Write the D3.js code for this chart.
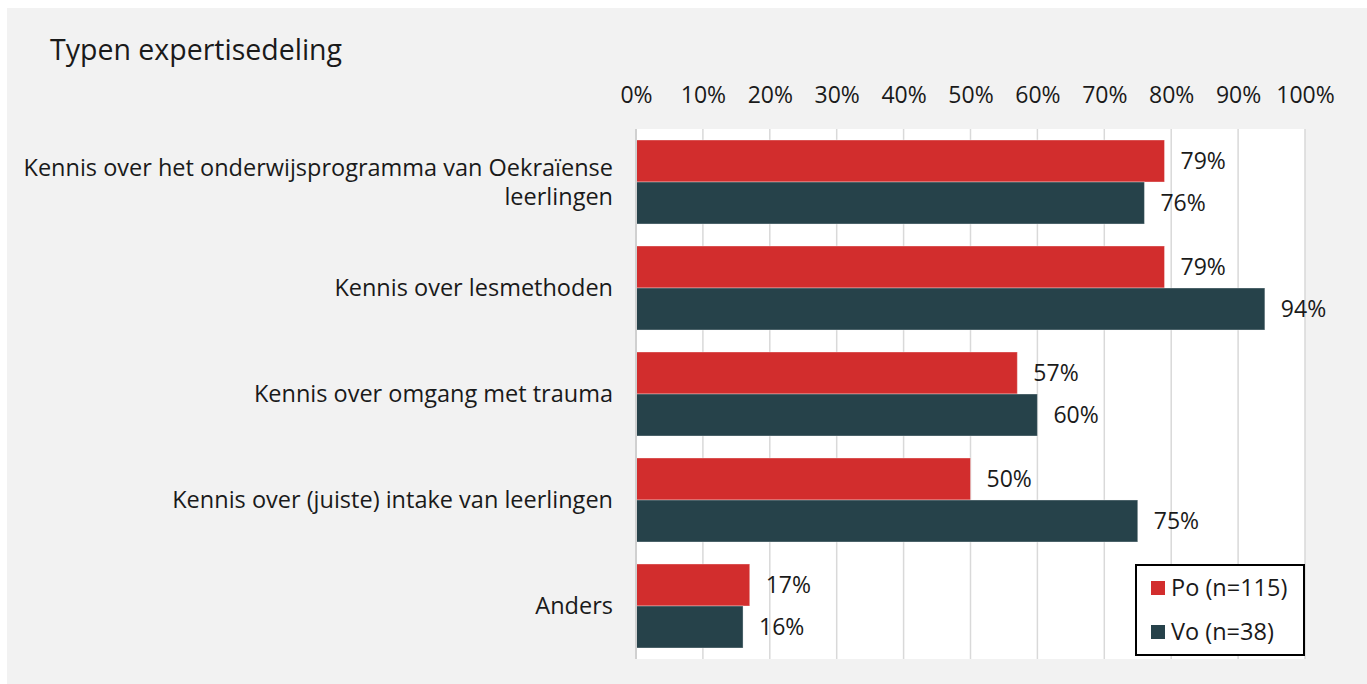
<!DOCTYPE html>
<html>
<head>
<meta charset="utf-8">
<script src="https://cdn.jsdelivr.net/npm/d3@7"></script>
<style>
  html, body { margin: 0; padding: 0; background: #ffffff; }
  svg { display: block; font-family: "Open Sans", Lato, sans-serif; }
</style>
</head>
<body>
<svg id="chart" width="1367" height="684"></svg>
<script>
// Typen expertisedeling — share per school type
const categories = [
  ["Kennis over het onderwijsprogramma van Oekraïense", "leerlingen"],
  ["Kennis over lesmethoden"],
  ["Kennis over omgang met trauma"],
  ["Kennis over (juiste) intake van leerlingen"],
  ["Anders"]
];
const seriesNames = ["Po (n=115)", "Vo (n=38)"];
const poValues = [0.79, 0.79, 0.57, 0.50, 0.17];
const voValues = [0.76, 0.94, 0.60, 0.75, 0.16];
const tickValues = [0, 0.1, 0.2, 0.3, 0.4, 0.5, 0.6, 0.7, 0.8, 0.9, 1.0];
const colors = ["#d22d2d", "#26424a"];

const FONT = "'Open Sans', Lato, sans-serif";
const FS_CAT = 23.5;
const FS_NUM = 23;
const INK = "#1a1a1a";

const svg = d3.select("#chart");
const W = 1367, H = 684;

// card background
svg.append("rect").attr("x", 7).attr("y", 8).attr("width", W - 7).attr("height", H - 8)
  .attr("fill", "#f2f2f2");

const x = d3.scaleLinear().domain([0, 1]).range([636, 1305]);
const catKeys = categories.map((c, i) => i);
const y = d3.scaleBand().domain(catKeys).range([129, 659])
  .paddingInner(0.2075).paddingOuter(0.1038);
const ySub = d3.scaleBand().domain([0, 1]).range([0, y.bandwidth()]);

// plot area
svg.append("rect").attr("x", x(0)).attr("y", 129)
  .attr("width", x(1) - x(0)).attr("height", 530).attr("fill", "#ffffff");

// vertical gridlines
svg.append("g").selectAll("line").data(tickValues.slice(1)).join("line")
  .attr("x1", d => x(d)).attr("x2", d => x(d))
  .attr("y1", 129).attr("y2", 659)
  .attr("stroke", "#d9d9d9").attr("stroke-width", 1.5);

// top axis labels
const axis = d3.axisTop(x).tickValues(tickValues).tickFormat(d3.format(".0%")).tickSize(0);
const gAxis = svg.append("g").attr("transform", "translate(0,106)").call(axis);
gAxis.select(".domain").remove();
gAxis.selectAll("text").attr("font-size", FS_NUM).attr("fill", INK)
  .attr("font-family", FONT).attr("dy", 0);

// bars
const rows = categories.map((c, i) => ({ i, vals: [poValues[i], voValues[i]] }));
const gRow = svg.append("g").selectAll("g").data(rows).join("g")
  .attr("transform", d => `translate(0,${y(d.i)})`);

gRow.selectAll("rect").data(d => d.vals.map((v, s) => ({ v, s }))).join("rect")
  .attr("x", x(0))
  .attr("y", d => ySub(d.s))
  .attr("width", d => x(d.v) - x(0))
  .attr("height", ySub.bandwidth())
  .attr("fill", d => colors[d.s])
  .attr("stroke", "rgba(255,255,255,0.35)").attr("stroke-width", 1);

// value labels
gRow.selectAll("text").data(d => d.vals.map((v, s) => ({ v, s }))).join("text")
  .attr("x", d => x(d.v) + 16)
  .attr("y", d => ySub(d.s) + ySub.bandwidth() / 2)
  .attr("dy", "0.36em")
  .attr("font-size", FS_NUM).attr("fill", INK)
  .text(d => d3.format(".0%")(d.v));

// zero axis line
svg.append("line").attr("x1", x(0)).attr("x2", x(0)).attr("y1", 129).attr("y2", 659)
  .attr("stroke", "#d0d0d0").attr("stroke-width", 2);

// category labels
const lineH = 29;
svg.append("g").selectAll("text").data(categories).join("text")
  .attr("text-anchor", "end")
  .attr("font-size", FS_CAT).attr("fill", INK)
  .each(function (lines, i) {
    const cy = y(i) + y.bandwidth() / 2;
    const y0 = cy - (lines.length - 1) * lineH / 2;
    d3.select(this).selectAll("tspan").data(lines).join("tspan")
      .attr("x", 613).attr("y", (d, k) => y0 + k * lineH).attr("dy", "0.36em")
      .text(d => d);
  });

// title
svg.append("text").attr("x", 50).attr("y", 60)
  .attr("font-size", 28.5).attr("fill", INK)
  .text("Typen expertisedeling");

// legend
const lg = svg.append("g");
lg.append("rect").attr("x", 1136).attr("y", 565).attr("width", 168).attr("height", 90)
  .attr("fill", "#ffffff").attr("stroke", "#000000").attr("stroke-width", 2);
const items = lg.selectAll("g").data(seriesNames).join("g")
  .attr("transform", (d, i) => `translate(1151,${588 + i * 44})`);
items.append("rect").attr("x", 0).attr("y", -7).attr("width", 14).attr("height", 14)
  .attr("fill", (d, i) => colors[i]);
items.append("text").attr("x", 20).attr("y", 0).attr("dy", "0.36em")
  .attr("font-size", FS_CAT).attr("fill", INK).text(d => d);
</script>
</body>
</html>
